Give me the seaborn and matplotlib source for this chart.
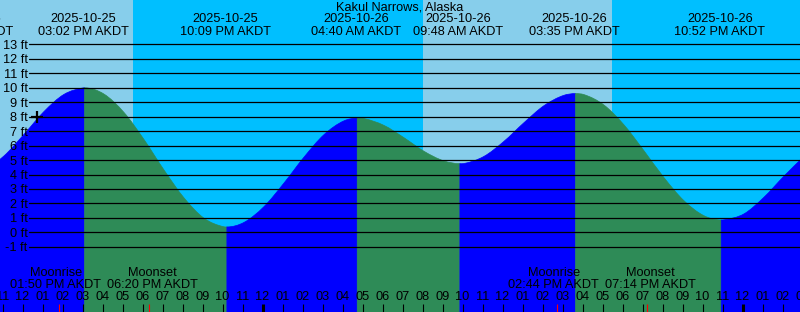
import numpy as np
import pandas as pd
import matplotlib
matplotlib.use("Agg")
import matplotlib.pyplot as plt
from matplotlib.path import Path
from matplotlib.patches import PathPatch
import seaborn as sns

# ---------------- data ----------------
title = "Kakul Narrows, Alaska"
base_time = pd.Timestamp("2025-10-25 11:00")

# tide extremes (time, height ft)
tide_times = ["2025-10-25 09:18", "2025-10-25 15:02", "2025-10-25 22:09",
              "2025-10-26 04:40", "2025-10-26 09:48", "2025-10-26 15:35",
              "2025-10-26 22:52"]
tide_heights = [4.1, 10.0, 0.37, 7.9, 4.75, 9.6, 0.85]

# hourly predicted heights (ft), 10:00 AM Oct 25 .. 03:00 AM Oct 27
hourly_start = "2025-10-25 10:00"
hourly_heights = [4.31, 5.28, 6.77, 8.35, 9.54, 10.0, 9.57, 8.30, 6.43, 4.32,
                  2.39, 0.98, 0.38, 0.68, 1.77, 3.40, 5.19, 6.75, 7.71, 7.87,
                  7.40, 6.55, 5.61, 4.94, 4.76, 5.25, 6.29, 7.58, 8.76, 9.48,
                  9.53, 8.81, 7.44, 5.65, 3.79, 2.19, 1.15, 0.86, 1.27, 2.42,
                  3.88, 5.25]

sunset_1 = "2025-10-25 17:32"
sunrise_2 = "2025-10-26 08:01"
sunset_2 = "2025-10-26 17:28"

moon_names = ["Moonrise", "Moonset", "Moonrise", "Moonset"]
moon_times = ["2025-10-25 13:50", "2025-10-25 18:20",
              "2025-10-26 14:44", "2025-10-26 19:14"]

marker_time = "2025-10-25 12:44"
marker_level = 8.0

ft_levels = list(range(-1, 14))

# ---------------- helpers ----------------
def hrs(t):
    return (pd.Timestamp(t) - base_time) / pd.Timedelta(hours=1)

W, H = 800, 312
X0, PXH = 2.5, 20.0          # pixel of base_time, pixels per hour
Y0, PXF = 232.3, 14.45       # pixel of 0 ft, pixels per foot
xmin, xmax = (0 - X0) / PXH, (W - X0) / PXH
ymin, ymax = (Y0 - H) / PXF, (Y0 - 0) / PXF
CURVE_SHIFT = 1.4 / PXH      # curve drawn slightly right of label positions

def fy(p):  # pixel row -> axes fraction
    return 1 - p / H

DAY = "#87CEEB"
NIGHT = "#00BFFF"
RISE = "#0000FF"
FALL = "#2E8B57"

sns.set_style("white")
plt.rcParams["font.family"] = ["Liberation Sans", "DejaVu Sans"]
FS = 9.2

fig = plt.figure(figsize=(W / 100, H / 100), dpi=100)
ax = fig.add_axes([0, 0, 1, 1])
ax.axis("off")

# day / night background
s1, r2, s2 = hrs(sunset_1), hrs(sunrise_2), hrs(sunset_2)
ax.axvspan(xmin - 1, s1, color=DAY, lw=0, zorder=0)
ax.axvspan(s1, r2, color=NIGHT, lw=0, zorder=0)
ax.axvspan(r2, s2, color=DAY, lw=0, zorder=0)
ax.axvspan(s2, xmax + 1, color=NIGHT, lw=0, zorder=0)

# tide curve: smooth Bezier path through extremes + hourly heights
ext_h = [hrs(t) for t in tide_times]
hourly_h = [hrs(t) for t in pd.date_range(hourly_start, periods=len(hourly_heights), freq="h")]
curve = pd.DataFrame({"h": ext_h + hourly_h, "ft": tide_heights + hourly_heights})
curve = curve.sort_values("h").drop_duplicates("h").reset_index(drop=True)

bounds = ext_h + [curve["h"].max() + 0.001]
for i in range(len(bounds) - 1):
    a, b = bounds[i], bounds[i + 1]
    seg = curve[(curve["h"] >= a) & (curve["h"] <= b)]
    xs, ys = seg["h"].to_numpy() + CURVE_SHIFT, seg["ft"].to_numpy()
    rising = tide_heights[i + 1] > tide_heights[i] if i + 1 < len(tide_heights) else True
    col = RISE if rising else FALL
    n = len(xs)
    sec = np.diff(ys) / np.diff(xs)
    m = np.zeros(n)
    for k in range(1, n - 1):
        m[k] = 0.5 * (sec[k - 1] + sec[k])
    if i + 1 >= len(tide_heights):       # open end: no extreme
        m[-1] = sec[-1]
    verts = [(xs[0], ymin - 1), (xs[0], ys[0])]
    codes = [Path.MOVETO, Path.LINETO]
    for k in range(n - 1):
        dx = xs[k + 1] - xs[k]
        verts += [(xs[k] + dx / 3, ys[k] + m[k] * dx / 3),
                  (xs[k + 1] - dx / 3, ys[k + 1] - m[k + 1] * dx / 3),
                  (xs[k + 1], ys[k + 1])]
        codes += [Path.CURVE4] * 3
    verts += [(xs[-1], ymin - 1), (xs[0], ymin - 1)]
    codes += [Path.LINETO, Path.CLOSEPOLY]
    ax.add_patch(PathPatch(Path(verts, codes), facecolor=col, edgecolor=col,
                           lw=0.5, zorder=1))

# horizontal grid lines (seaborn) + labels
gx0 = (29 - X0) / PXH
grid = pd.DataFrame({"h": [gx0, xmax + 1] * len(ft_levels),
                     "ft": [lv for lv in ft_levels for _ in range(2)],
                     "lvl": [lv for lv in ft_levels for _ in range(2)]})
sns.lineplot(data=grid, x="h", y="ft", units="lvl", estimator=None,
             color="black", lw=0.9, legend=False, ax=ax, zorder=3)
ax.set_xlim(xmin, xmax)
ax.set_ylim(ymin, ymax)
ax.axis("off")

ytr = ax.get_yaxis_transform()
for lv in ft_levels:
    ax.text(27.5 / W, lv, f"{lv} ft", transform=ytr, ha="right", va="center_baseline",
            fontsize=FS, color="black", zorder=4)

# current marker
ax.plot([hrs(marker_time)], [marker_level], marker="+", color="black",
        markersize=8, markeredgewidth=1.6, zorder=5)

xtr = ax.get_xaxis_transform()
# title and tide labels
ax.text(0.5, fy(7), title, transform=ax.transAxes, ha="center", va="center",
        fontsize=FS, color="black", zorder=6)
for t in tide_times:
    ts = pd.Timestamp(t)
    h = hrs(t)
    ax.text(h, fy(19), ts.strftime("%Y-%m-%d"), transform=xtr, ha="center",
            va="center", fontsize=FS, color="black", zorder=6)
    ax.text(h, fy(32), ts.strftime("%I:%M %p AKDT"), transform=xtr, ha="center",
            va="center", fontsize=FS, color="black", zorder=6)

# moon labels (rise labels nudged left, set labels nudged right)
for name, t in zip(moon_names, moon_times):
    ts = pd.Timestamp(t)
    h = hrs(t) + (-3.5 if name == "Moonrise" else 3.3) / PXH
    ax.text(h, fy(273), name, transform=xtr, ha="center", va="center",
            fontsize=FS, color="black", zorder=6)
    ax.text(h, fy(285.5), ts.strftime("%I:%M %p AKDT"), transform=xtr, ha="center",
            va="center", fontsize=FS, color="black", zorder=6)

# hour ticks
for ts in pd.date_range("2025-10-25 10:00", "2025-10-27 03:00", freq="h"):
    h = hrs(ts)
    midnight = ts.hour == 0
    ax.plot([h, h], [fy(304), fy(312)], transform=xtr, color="black",
            lw=2.2 if midnight else 0.8, solid_capstyle="butt", zorder=6)
    ax.text(h, fy(297.5), ts.strftime("%I"), transform=xtr, ha="center",
            va="center", fontsize=FS, color="black", zorder=6)
for t in moon_times:
    h = hrs(t)
    ax.plot([h, h], [fy(304), fy(312)], transform=xtr, color="red", lw=0.8,
            solid_capstyle="butt", zorder=7)

fig.savefig("out.png", dpi=100)
